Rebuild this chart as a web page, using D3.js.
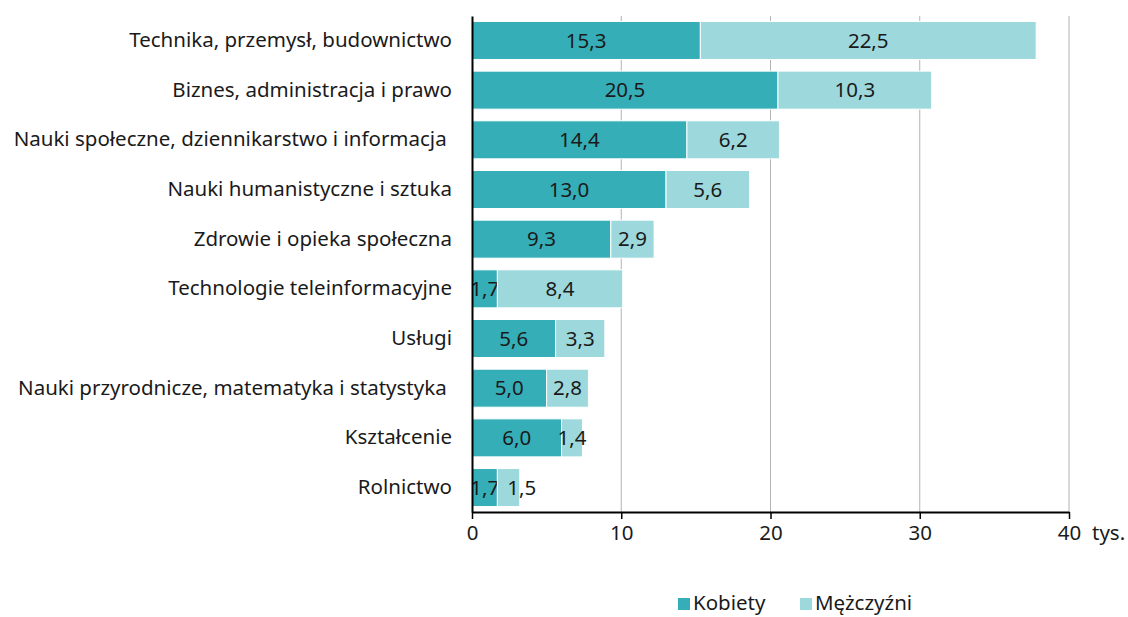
<!DOCTYPE html>
<html>
<head>
<meta charset="utf-8">
<script src="https://cdn.jsdelivr.net/npm/d3@7"></script>
<style>
  body { margin: 0; background: #fff; }
  svg text { font-family: "Noto Sans", sans-serif; fill: #1a1a1a; white-space: pre; }
</style>
</head>
<body>
<div id="chart"></div>
<script>
// categories, top to bottom
const categories = [
  "Technika, przemysł, budownictwo",
  "Biznes, administracja i prawo",
  "Nauki społeczne, dziennikarstwo i informacja ",
  "Nauki humanistyczne i sztuka",
  "Zdrowie i opieka społeczna",
  "Technologie teleinformacyjne",
  "Usługi",
  "Nauki przyrodnicze, matematyka i statystyka ",
  "Kształcenie",
  "Rolnictwo"
];
const kobiety = [15.3, 20.5, 14.4, 13.0, 9.3, 1.7, 5.6, 5.0, 6.0, 1.7];
const mezczyzni = [22.5, 10.3, 6.2, 5.6, 2.9, 8.4, 3.3, 2.8, 1.4, 1.5];
const seriesNames = ["Kobiety", "Mężczyźni"];
const xTicks = [0, 10, 20, 30, 40];
const unitLabel = "tys.";

const width = 1128, height = 617;
const margin = { left: 472, top: 16, right: 59, bottom: 105 };
const colors = ["#35aeb8", "#9dd8dc"];
const fontSize = "20.5px";

const pl = d3.formatLocale({ decimal: ",", thousands: " ", grouping: [3], currency: ["", " zł"] });
const fmt = pl.format(".1f");

const svg = d3.select("#chart").append("svg")
  .attr("width", width)
  .attr("height", height);

//#region scales
const scaleX = d3.scaleLinear().domain([0, 40]).range([margin.left, width - margin.right]);
const scaleY = d3.scaleBand()
  .domain(categories)
  .range([margin.top, height - margin.bottom])
  .paddingInner(0.235)
  .paddingOuter(0.11);
//#endregion

//#region gridlines
svg.append("g")
  .selectAll("line")
  .data(xTicks.slice(1))
  .join("line")
  .attr("x1", d => scaleX(d)).attr("x2", d => scaleX(d))
  .attr("y1", margin.top).attr("y2", height - margin.bottom)
  .attr("stroke", "#b3b3b3")
  .attr("stroke-width", 1);
//#endregion

//#region bars
const rows = categories.map((c, i) => ({ cat: c, k: kobiety[i], m: mezczyzni[i] }));
const stacked = d3.stack().keys(["k", "m"])(rows);

const layers = svg.append("g")
  .selectAll("g")
  .data(stacked)
  .join("g")
  .attr("fill", (d, i) => colors[i]);

layers.selectAll("rect")
  .data(d => d)
  .join("rect")
  .attr("x", d => scaleX(d[0]))
  .attr("y", d => scaleY(d.data.cat))
  .attr("width", d => scaleX(d[1]) - scaleX(d[0]))
  .attr("height", scaleY.bandwidth())
  .attr("stroke", "#fff")
  .attr("stroke-width", 1);

const labels = layers.selectAll("text")
  .data(d => d)
  .join("text")
  .attr("x", d => (scaleX(d[0]) + scaleX(d[1])) / 2)
  .attr("y", d => scaleY(d.data.cat) + scaleY.bandwidth() / 2)
  .attr("dy", "0.35em")
  .attr("text-anchor", "middle")
  .style("font-size", fontSize)
  .text(d => fmt(d[1] - d[0]));

// push a second label right if it runs into the first one
const firstLabels = labels.filter((d, i, n) => n[i].parentNode === layers.nodes()[0]).nodes();
const secondLabels = labels.filter((d, i, n) => n[i].parentNode === layers.nodes()[1]).nodes();
secondLabels.forEach((node, i) => {
  const a = firstLabels[i].getBBox();
  const b = node.getBBox();
  const gap = 8;
  if (b.x < a.x + a.width + gap) {
    d3.select(node).attr("x", +d3.select(node).attr("x") + (a.x + a.width + gap - b.x));
  }
});
//#endregion

//#region axes
const yAxis = svg.append("g")
  .attr("transform", `translate(${margin.left},0)`)
  .call(d3.axisLeft(scaleY).tickSize(0).tickPadding(20).tickSizeOuter(0));
yAxis.select(".domain").attr("stroke", "#000").attr("stroke-width", 2);
yAxis.selectAll("text").style("font-size", fontSize).attr("fill", "#1a1a1a");

const xAxis = svg.append("g")
  .attr("transform", `translate(0,${height - margin.bottom})`)
  .call(d3.axisBottom(scaleX).tickValues(xTicks).tickFormat(d3.format("d")).tickSize(7).tickSizeOuter(0).tickPadding(6));
xAxis.select(".domain").attr("stroke", "#000").attr("stroke-width", 2);
xAxis.selectAll(".tick line").attr("stroke", "#000").attr("stroke-width", 1.5);
xAxis.selectAll("text").style("font-size", fontSize).attr("fill", "#1a1a1a");

svg.append("text")
  .attr("x", scaleX(40) + 23)
  .attr("y", height - margin.bottom + 13)
  .attr("dy", "0.71em")
  .style("font-size", fontSize)
  .text(unitLabel);
//#endregion

//#region legend
const legendX = [678, 800];
const legend = svg.append("g")
  .selectAll("g")
  .data(seriesNames)
  .join("g")
  .attr("transform", (d, i) => `translate(${legendX[i]},598)`);
legend.append("rect")
  .attr("width", 12).attr("height", 12)
  .attr("fill", (d, i) => colors[i]);
legend.append("text")
  .attr("x", 15).attr("y", 5)
  .attr("dy", "0.35em")
  .style("font-size", fontSize)
  .text(d => d);
//#endregion
</script>
</body>
</html>
